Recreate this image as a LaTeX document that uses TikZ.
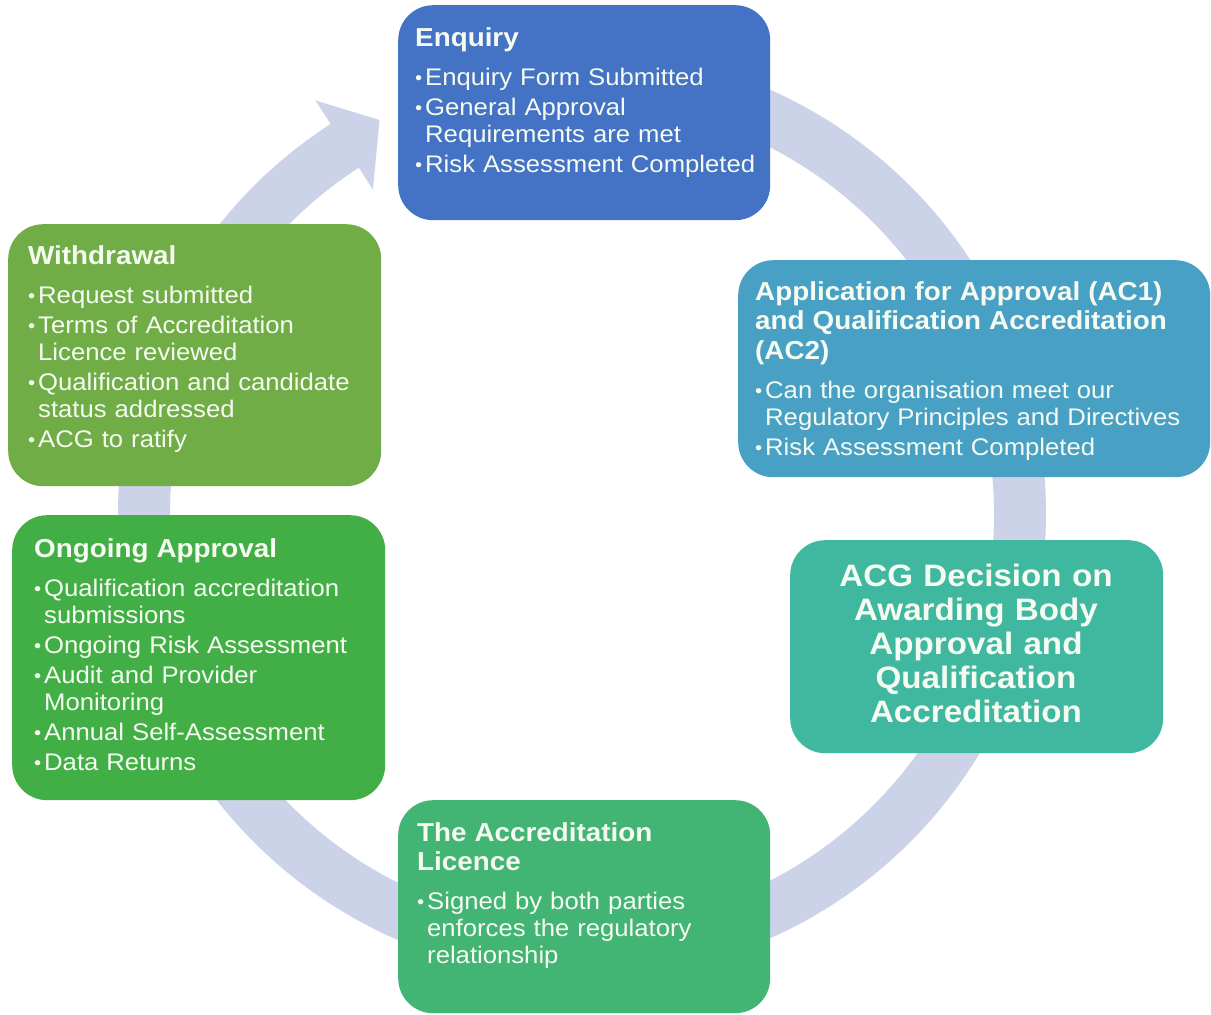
\documentclass[tikz,border=0pt]{standalone}
\usepackage{fontspec}
\setmainfont{Liberation Sans}[FakeStretch=1.07]
\definecolor{cEnq}{RGB}{68,114,196}
\definecolor{cApp}{RGB}{72,161,196}
\definecolor{cAcg}{RGB}{64,184,160}
\definecolor{cLic}{RGB}{66,180,115}
\definecolor{cOng}{RGB}{65,175,70}
\definecolor{cWd}{RGB}{112,173,71}
\definecolor{cRing}{RGB}{204,210,232}
\definecolor{cTxt}{RGB}{246,251,242}
% heading of a panel, then a gap before the bullet list
\newcommand\boxtitle[1]{{\bfseries\fontsize{26}{29.5}\selectfont #1\par}\vspace{12pt}}
% one bullet item with a hanging indent for wrapped lines
\newcommand\bul[1]{\par\hangindent=10pt\hangafter=1\noindent\makebox[10pt][l]{\raisebox{1pt}{\fontsize{19}{19}\selectfont •}}#1\par\vspace{3pt}}
\begin{document}
\begin{tikzpicture}[x=1pt,y=-1pt,
  panel/.style={draw=none, rounded corners=35pt, inner sep=0pt, anchor=north west},
  txt/.style={anchor=base west, inner sep=0pt, align=left, text=cTxt,
    font=\fontsize{24}{27}\selectfont},
  ring/.style={draw=cRing, line width=52pt},
  ringhead/.style={fill=cRing}]
\useasboundingbox (0,0) rectangle (1211,1015);
\fill[white] (0,0) rectangle (1211,1015);

% circular flow arrow behind the panels
\coordinate (ctr) at (582,514);
\draw[ring] (ctr) ++(-90:438) arc[start angle=-90, end angle=237.6, radius=438];
\fill[ringhead, shift={(ctr)}] (237.2:492) -- (242.8:443) -- (237.2:386) -- cycle;

% panels
\node[panel, fill=cEnq, minimum width=372pt, minimum height=215pt] (enq) at (398,5) {};
\node[panel, fill=cApp, minimum width=472pt, minimum height=217pt] (app) at (738,260) {};
\node[panel, fill=cAcg, minimum width=373pt, minimum height=213pt] (acg) at (790,540) {};
\node[panel, fill=cLic, minimum width=372pt, minimum height=213pt] (lic) at (398,800) {};
\node[panel, fill=cOng, minimum width=373pt, minimum height=285pt] (ong) at (12,515) {};
\node[panel, fill=cWd, minimum width=373pt, minimum height=262pt] (wd) at (8,224) {};

% panel texts
\node[txt, text width=360pt] (enqT) at (415,46)
 {\boxtitle{Enquiry}%
  \bul{Enquiry Form Submitted}%
  \bul{General Approval\newline Requirements are met}%
  \bul{Risk Assessment Completed}};

\node[txt, text width=450pt] (appT) at (755,300)
 {\boxtitle{Application for Approval (AC1)\\and Qualification Accreditation\\(AC2)}%
  \bul{Can the organisation meet our\newline Regulatory Principles and Directives}%
  \bul{Risk Assessment Completed}};

\node[anchor=base, inner sep=0pt, align=center, text=cTxt, text width=370pt,
      font=\bfseries\fontsize{31}{34}\selectfont] (acgT) at (976,586)
 {ACG Decision on\\Awarding Body\\Approval and\\Qualification\\Accreditation};

\node[txt, text width=360pt] (licT) at (417,841)
 {\boxtitle{The Accreditation\\Licence}%
  \bul{Signed by both parties\newline enforces the regulatory\newline relationship}};

\node[txt, text width=360pt] (ongT) at (34,557)
 {\boxtitle{Ongoing Approval}%
  \bul{Qualification accreditation\newline submissions}%
  \bul{Ongoing Risk Assessment}%
  \bul{Audit and Provider\newline Monitoring}%
  \bul{Annual Self-Assessment}%
  \bul{Data Returns}};

\node[txt, text width=360pt] (wdT) at (28,264)
 {\boxtitle{Withdrawal}%
  \bul{Request submitted}%
  \bul{Terms of Accreditation\newline Licence reviewed}%
  \bul{Qualification and candidate\newline status addressed}%
  \bul{ACG to ratify}};
\end{tikzpicture}
\end{document}
